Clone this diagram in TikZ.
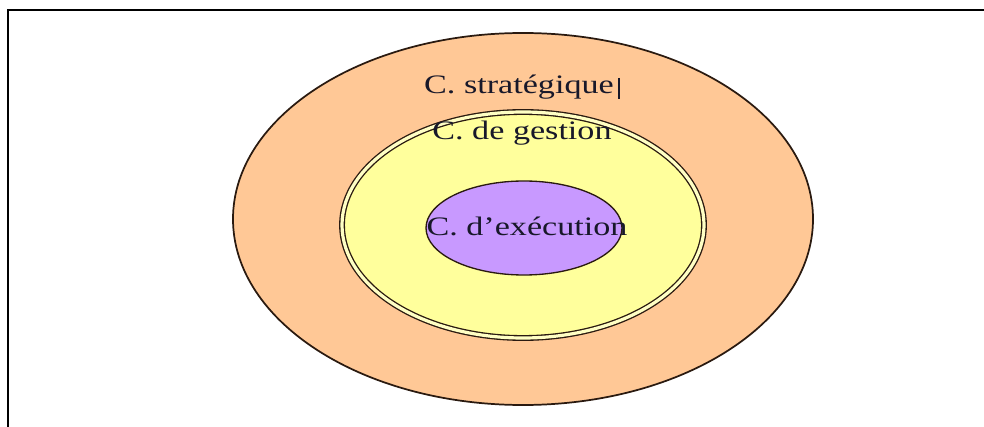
\documentclass[tikz,border=0pt]{standalone}
\usepackage{fontspec}
\setmainfont{Liberation Serif}
\definecolor{orangefill}{HTML}{FFC896}
\definecolor{yellowfill}{HTML}{FFFF9C}
\definecolor{purplefill}{HTML}{C899FF}
\definecolor{edge}{HTML}{2A1A10}
\definecolor{txt}{HTML}{18182A}
\tikzset{
  lbl/.style={anchor=base, inner sep=0pt, text=txt, font=\fontsize{20}{23}\selectfont},
  ring/.style={draw=edge, line width=1.3pt}
}
\newcommand{\wide}[1]{\scalebox{1.28}[1]{#1}}
\begin{document}
\begin{tikzpicture}[x=0.75pt, y=-0.75pt]
\useasboundingbox (0,0) rectangle (984,427);
\fill[white] (0,0) rectangle (984,427);
% frame (top and left edges)
\coordinate (ftr) at (984,10);
\coordinate (ftl) at (8,10);
\coordinate (fbl) at (8,427);
\draw[line width=1.6pt, black] (ftr) -- (ftl) -- (fbl);
% circles
\draw[ring, fill=orangefill] (523,219) ellipse [x radius=290, y radius=186];
\draw[draw=edge, line width=1pt, double=yellowfill!60!white, double distance=2.4pt, fill=yellowfill] (523,225) ellipse [x radius=181, y radius=113];
\draw[ring, line width=1pt, fill=purplefill] (524,228) ellipse [x radius=98, y radius=47];
% labels
\node[lbl] (strat) at (519,94) {\wide{C. stratégique}};
\node[lbl] (gest) at (522,140) {\wide{C. de gestion}};
\node[lbl] (exec) at (527,236) {\wide{C. d’exécution}};
% text cursor
\coordinate (curT) at (619,78);
\coordinate (curB) at (619,99);
\draw[line width=1.8pt, txt] (curT) -- (curB);
\end{tikzpicture}
\end{document}
